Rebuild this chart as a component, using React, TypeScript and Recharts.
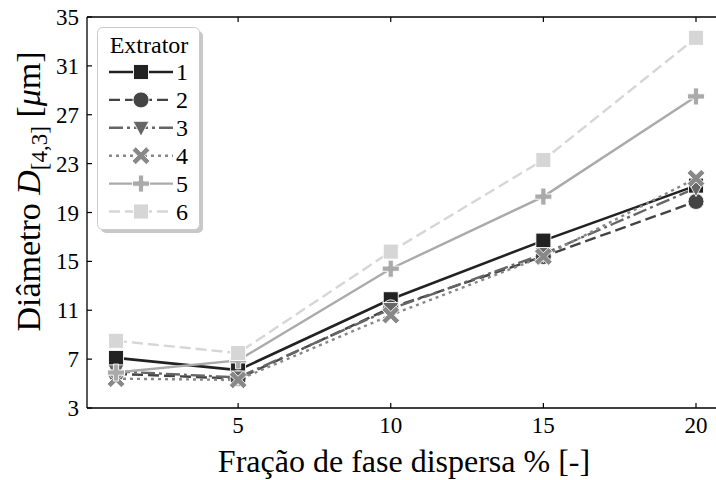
import React from 'react';
import { LineChart, Line, XAxis, YAxis, Legend } from 'recharts';

// Droplet diameter D[4,3] per extractor vs dispersed phase fraction
const fractions = [1, 5, 10, 15, 20];
const extractor1 = [7.1, 6.1, 11.9, 16.7, 21.2];
const extractor2 = [5.8, 5.4, 11.2, 15.4, 19.9];
const extractor3 = [6.0, 5.5, 11.1, 15.6, 21.0];
const extractor4 = [5.4, 5.3, 10.6, 15.4, 21.8];
const extractor5 = [5.9, 6.9, 14.4, 20.3, 28.5];
const extractor6 = [8.5, 7.5, 15.8, 23.3, 33.3];
const xTicks = [5, 10, 15, 20];
const yTicks = [3, 7, 11, 15, 19, 23, 27, 31, 35];

const SERIF = '"Liberation Serif", "Times New Roman", serif';

type Shape = 'square' | 'circle' | 'triangle' | 'x' | 'plus';

interface SeriesStyle {
  key: string;
  name: string;
  values: number[];
  color: string;
  dash?: string;
  width: number;
  shape: Shape;
}

const series: SeriesStyle[] = [
  { key: 'e1', name: '1', values: extractor1, color: '#222222', width: 2.6, shape: 'square' },
  { key: 'e2', name: '2', values: extractor2, color: '#444444', dash: '11 5', width: 2.4, shape: 'circle' },
  { key: 'e3', name: '3', values: extractor3, color: '#666666', dash: '14 4 3 4', width: 2.4, shape: 'triangle' },
  { key: 'e4', name: '4', values: extractor4, color: '#888888', dash: '3 4', width: 2.4, shape: 'x' },
  { key: 'e5', name: '5', values: extractor5, color: '#aaaaaa', width: 2.4, shape: 'plus' },
  { key: 'e6', name: '6', values: extractor6, color: '#d6d6d6', dash: '11 5', width: 2.4, shape: 'square' },
];

const rows = fractions.map((f, i) => {
  const row: Record<string, number> = { fraction: f };
  series.forEach((s) => {
    row[s.key] = s.values[i];
  });
  return row;
});

function crossPoints(cx: number, cy: number, half: number, arm: number, angle: number) {
  const base = [
    [-arm, -half], [arm, -half], [arm, -arm], [half, -arm], [half, arm], [arm, arm],
    [arm, half], [-arm, half], [-arm, arm], [-half, arm], [-half, -arm], [-arm, -arm],
  ];
  const c = Math.cos(angle);
  const s = Math.sin(angle);
  return base.map(([dx, dy]) => `${cx + dx * c - dy * s},${cy + dx * s + dy * c}`).join(' ');
}

function Marker({ shape, cx, cy, color }: { shape: Shape; cx: number; cy: number; color: string }) {
  const h = 7.5;
  const edge = { stroke: '#ffffff', strokeWidth: 0.9 };
  switch (shape) {
    case 'square':
      return <rect x={cx - h} y={cy - h} width={2 * h} height={2 * h} fill={color} {...edge} />;
    case 'circle':
      return <circle cx={cx} cy={cy} r={h + 0.5} fill={color} {...edge} />;
    case 'triangle':
      return <polygon points={`${cx - h - 0.5},${cy - h + 1} ${cx + h + 0.5},${cy - h + 1} ${cx},${cy + h + 1}`} fill={color} {...edge} />;
    case 'x':
      return <polygon points={crossPoints(cx, cy, 10, 2.6, Math.PI / 4)} fill={color} {...edge} />;
    case 'plus':
      return <polygon points={crossPoints(cx, cy, 8.5, 2.6, 0)} fill={color} {...edge} />;
  }
  return null;
}

const BottomTick = (props: any) => {
  const { x, y, payload } = props;
  return (
    <g>
      <line x1={x} y1={y} x2={x} y2={y - 5} stroke="#000" strokeWidth={1.2} />
      <text x={x} y={y + 25} textAnchor="middle" fontSize={23} fontFamily={SERIF} fill="#000">
        {payload.value}
      </text>
    </g>
  );
};

const TopTick = (props: any) => {
  const { x, y } = props;
  return <line x1={x} y1={y} x2={x} y2={y + 5} stroke="#000" strokeWidth={1.2} />;
};

const LeftTick = (props: any) => {
  const { x, y, payload } = props;
  return (
    <g>
      <line x1={x} y1={y} x2={x + 5} y2={y} stroke="#000" strokeWidth={1.2} />
      <text x={x - 8} y={y + 8} textAnchor="end" fontSize={23} fontFamily={SERIF} fill="#000">
        {payload.value}
      </text>
    </g>
  );
};

const XTitle = (props: any) => {
  const { x, y, width } = props.viewBox;
  return (
    <text x={x + width / 2 - 2} y={y + 64} textAnchor="middle" fontSize={32} fontFamily={SERIF} fill="#000">
      Fração de fase dispersa % [-]
    </text>
  );
};

const YTitle = (props: any) => {
  const { y, height } = props.viewBox;
  const cx = 40;
  const cy = y + height / 2 - 21;
  return (
    <text
      x={cx}
      y={cy}
      transform={`rotate(-90, ${cx}, ${cy})`}
      textAnchor="middle"
      fontSize={34}
      fontFamily={SERIF}
      fill="#000"
    >
      Diâmetro <tspan fontStyle="italic">D</tspan>
      <tspan fontSize={23} dy={7}>[4,3]</tspan>
      <tspan dy={-7}> [</tspan>
      <tspan fontStyle="italic">μ</tspan>m]
    </text>
  );
};

function LegendBox() {
  const w = 102;
  const h = 202;
  return (
    <svg width={w + 6} height={h + 6} style={{ display: 'block', overflow: 'visible' }}>
      <rect x={4} y={4} width={w} height={h} rx={5} fill="#9a9a9a" opacity={0.55} />
      <rect x={0.5} y={0.5} width={w} height={h} rx={5} fill="#fff" stroke="#cccccc" strokeWidth={1} />
      <text x={w / 2 + 1} y={26} textAnchor="middle" fontSize={24} fontFamily={SERIF} fill="#000">
        Extrator
      </text>
      {series.map((s, i) => {
        const cy = 45 + i * 27.9;
        return (
          <g key={s.key}>
            <line x1={12} x2={76} y1={cy} y2={cy} stroke={s.color} strokeWidth={s.width} strokeDasharray={s.dash} />
            <Marker shape={s.shape} cx={44} cy={cy} color={s.color} />
            <text x={79} y={cy + 8} fontSize={24} fontFamily={SERIF} fill="#000">
              {s.name}
            </text>
          </g>
        );
      })}
    </svg>
  );
}

export default function App() {
  return (
    <div style={{ position: 'absolute', left: 0, top: 0, width: 716, height: 480, overflow: 'hidden', background: '#fff' }}>
      <LineChart width={740} height={480} data={rows} margin={{ top: 16, right: 15, bottom: 0, left: 0 }}>
        <XAxis
          dataKey="fraction"
          type="number"
          domain={[0.05, 20.95]}
          allowDataOverflow
          ticks={xTicks}
          interval={0}
          height={72}
          tickSize={0}
          tickMargin={0}
          tickLine={false}
          tick={<BottomTick />}
          axisLine={{ stroke: '#000', strokeWidth: 1.3 }}
          label={{ content: XTitle }}
        />
        <XAxis
          xAxisId="top"
          orientation="top"
          dataKey="fraction"
          type="number"
          domain={[0.05, 20.95]}
          allowDataOverflow
          ticks={xTicks}
          interval={0}
          height={1}
          tickSize={0}
          tickMargin={0}
          tickLine={false}
          tick={<TopTick />}
          axisLine={{ stroke: '#000', strokeWidth: 1.3 }}
        />
        <YAxis
          type="number"
          domain={[3, 35]}
          allowDataOverflow
          ticks={yTicks}
          interval={0}
          width={87}
          tickSize={0}
          tickMargin={0}
          tickLine={false}
          tick={<LeftTick />}
          axisLine={{ stroke: '#000', strokeWidth: 1.3 }}
          label={{ content: YTitle }}
        />
        <Legend
          layout="vertical"
          align="center"
          verticalAlign="middle"
          content={() => <LegendBox />}
          wrapperStyle={{ left: 97, top: 27, width: 'auto', height: 'auto' }}
        />
        {series.map((s) => (
          <Line
            key={s.key}
            dataKey={s.key}
            name={s.name}
            type="linear"
            stroke={s.color}
            strokeWidth={s.width}
            strokeDasharray={s.dash}
            isAnimationActive={false}
            activeDot={false}
            dot={(p: any) => <Marker key={`${s.key}-${p.index}`} shape={s.shape} cx={p.cx} cy={p.cy} color={s.color} />}
          />
        ))}
      </LineChart>
    </div>
  );
}
